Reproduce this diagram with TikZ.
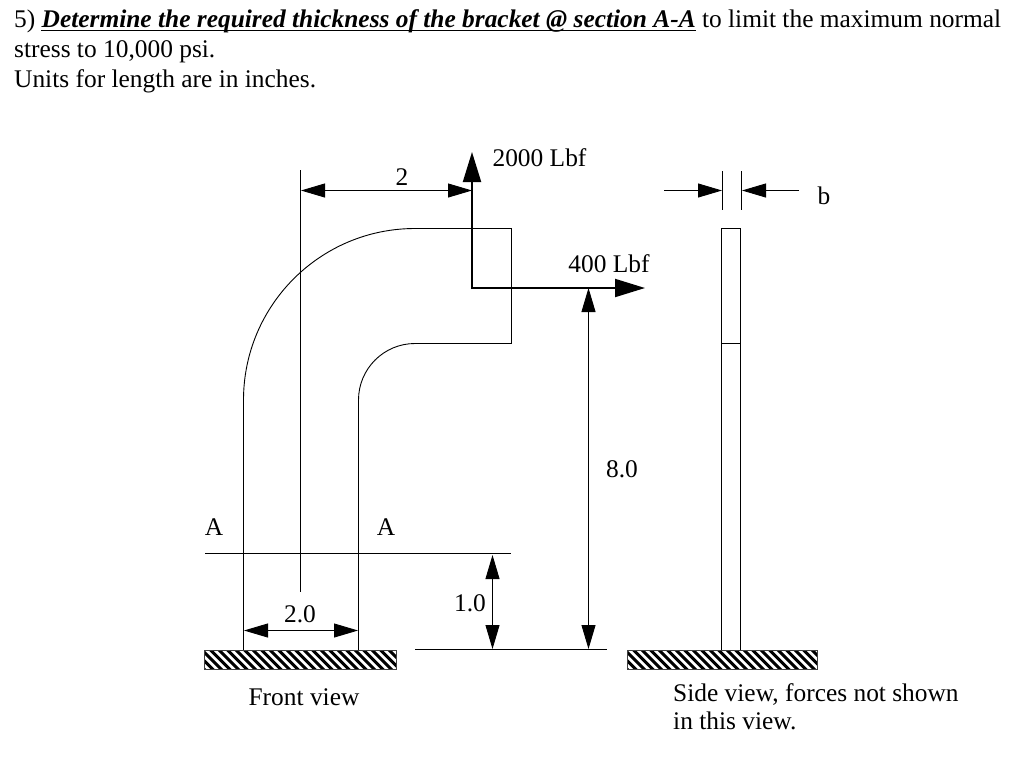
\documentclass[tikz,border=0pt]{standalone}
\usepackage{fontspec}
\setmainfont{Liberation Serif}
\usetikzlibrary{arrows.meta}
\tikzset{
  x=1pt,y=-1pt,
  txt/.style={inner sep=0pt,anchor=base west,font=\fontsize{25.4}{28}\selectfont},
  lab/.style={inner sep=0pt,anchor=base,font=\fontsize{25.4}{28}\selectfont},
  thin line/.style={line width=0.9pt,black},
  dim/.style={line width=0.9pt,{Triangle[length=24pt,width=14pt]}-{Triangle[length=24pt,width=14pt]}},
  dimin/.style={line width=0.9pt,-{Triangle[length=24pt,width=14pt]}},
  force/.style={line width=2pt,-{Triangle[length=30pt,width=18pt]}},
  hatchbox/.style={line width=1pt,draw=black!75}
}
\newcommand{\hatchat}[2]{%
  \begin{scope}
    \clip (#1,650) rectangle (#2,669);
    \foreach \k in {-30,-21.5,...,200}{
      \draw[line width=3pt] ({#1+\k},648) -- ({#1+\k+23},671);
    }
  \end{scope}
  \draw[hatchbox] (#1,650) rectangle (#2,669);
}
\begin{document}
\begin{tikzpicture}
\useasboundingbox (0,0) rectangle (1024,758);
\fill[white] (0,0) rectangle (1024,758);
% heading
\node[txt] (l1) at (14,27) {5) \textbf{\textit{Determine the required thickness of the bracket @ section A-A}} to limit the maximum normal};
\node[txt] (l2) at (14,57) {stress to 10,000 psi.};
\node[txt] (l3) at (14,87) {Units for length are in inches.};
\coordinate (ulA) at (41,30.5);
\coordinate (ulB) at (696,30.5);
\draw[line width=1.6pt] (ulA) -- (ulB);
% bracket outline
\coordinate (bl) at (243.5,650);
\coordinate (br) at (358.5,650);
\draw[thin line] (bl) -- (243.5,400) arc[start angle=180,end angle=90,x radius=171.5,y radius=-171.5]
  -- (511.5,228.5) -- (511.5,343.5) -- (415,343.5)
  arc[start angle=90,end angle=180,x radius=56.5,y radius=-56.5] -- (br);
% centre line, section line, base line
\coordinate (c1) at (300.5,170);
\coordinate (c2) at (300.5,592);
\draw[thin line] (c1) -- (c2);
\coordinate (s1) at (205,553.5);
\coordinate (s2) at (511,553.5);
\draw[thin line] (s1) -- (s2);
\coordinate (g1) at (415,649.5);
\coordinate (g2) at (607,649.5);
\draw[thin line] (g1) -- (g2);
% dimensions
\coordinate (d2a) at (301,190.5);
\coordinate (d2b) at (472,190.5);
\draw[dim] (d2a) -- (d2b);
\coordinate (d20a) at (244,630.5);
\coordinate (d20b) at (358,630.5);
\draw[dim] (d20a) -- (d20b);
\coordinate (d1a) at (492.5,555);
\coordinate (d1b) at (492.5,649);
\draw[dim] (d1a) -- (d1b);
\coordinate (d8a) at (588.5,288);
\coordinate (d8b) at (588.5,649);
\draw[dim] (d8a) -- (d8b);
% forces
\coordinate (o) at (472,288);
\coordinate (fu) at (472,152);
\coordinate (fr) at (645,288);
\draw[force] (472,289) -- (fu);
\draw[force] (471,288) -- (fr);
% side view
\coordinate (sa) at (721.5,228.5);
\coordinate (sb) at (740.5,343.5);
\draw[thin line] (sa) rectangle (sb);
\coordinate (sc) at (721.5,650);
\coordinate (sd) at (740.5,650);
\draw[thin line] (721.5,343) -- (sc);
\draw[thin line] (740.5,343) -- (sd);
% b dimension
\coordinate (t1a) at (722.5,171);
\coordinate (t1b) at (722.5,210);
\coordinate (t2a) at (741.5,171);
\coordinate (t2b) at (741.5,210);
\draw[thin line] (t1a) -- (t1b);
\draw[thin line] (t2a) -- (t2b);
\coordinate (ba) at (664,190.5);
\coordinate (bb) at (722,190.5);
\coordinate (bc) at (799,190.5);
\coordinate (bd) at (742,190.5);
\draw[dimin] (ba) -- (bb);
\draw[dimin] (bc) -- (bd);
% ground
\hatchat{204.5}{396.5}
\hatchat{627.5}{817.5}
% labels
\node[lab] (f1) at (539.5,166) {2000 Lbf};
\node[lab] (f2) at (609,272) {400 Lbf};
\node[lab] (n2) at (402,185) {2};
\node[lab] (nb) at (824,204) {b};
\node[lab] (n8) at (622,477) {8.0};
\node[lab] (aL) at (214,535) {A};
\node[lab] (aR) at (386,535) {A};
\node[lab] (n1) at (470,611) {1.0};
\node[lab] (n20) at (300,622) {2.0};
\node[lab] (fv) at (304,705) {Front view};
\node[txt] (sv1) at (673,701) {Side view, forces not shown};
\node[txt] (sv2) at (673,729) {in this view.};
\end{tikzpicture}
\end{document}
